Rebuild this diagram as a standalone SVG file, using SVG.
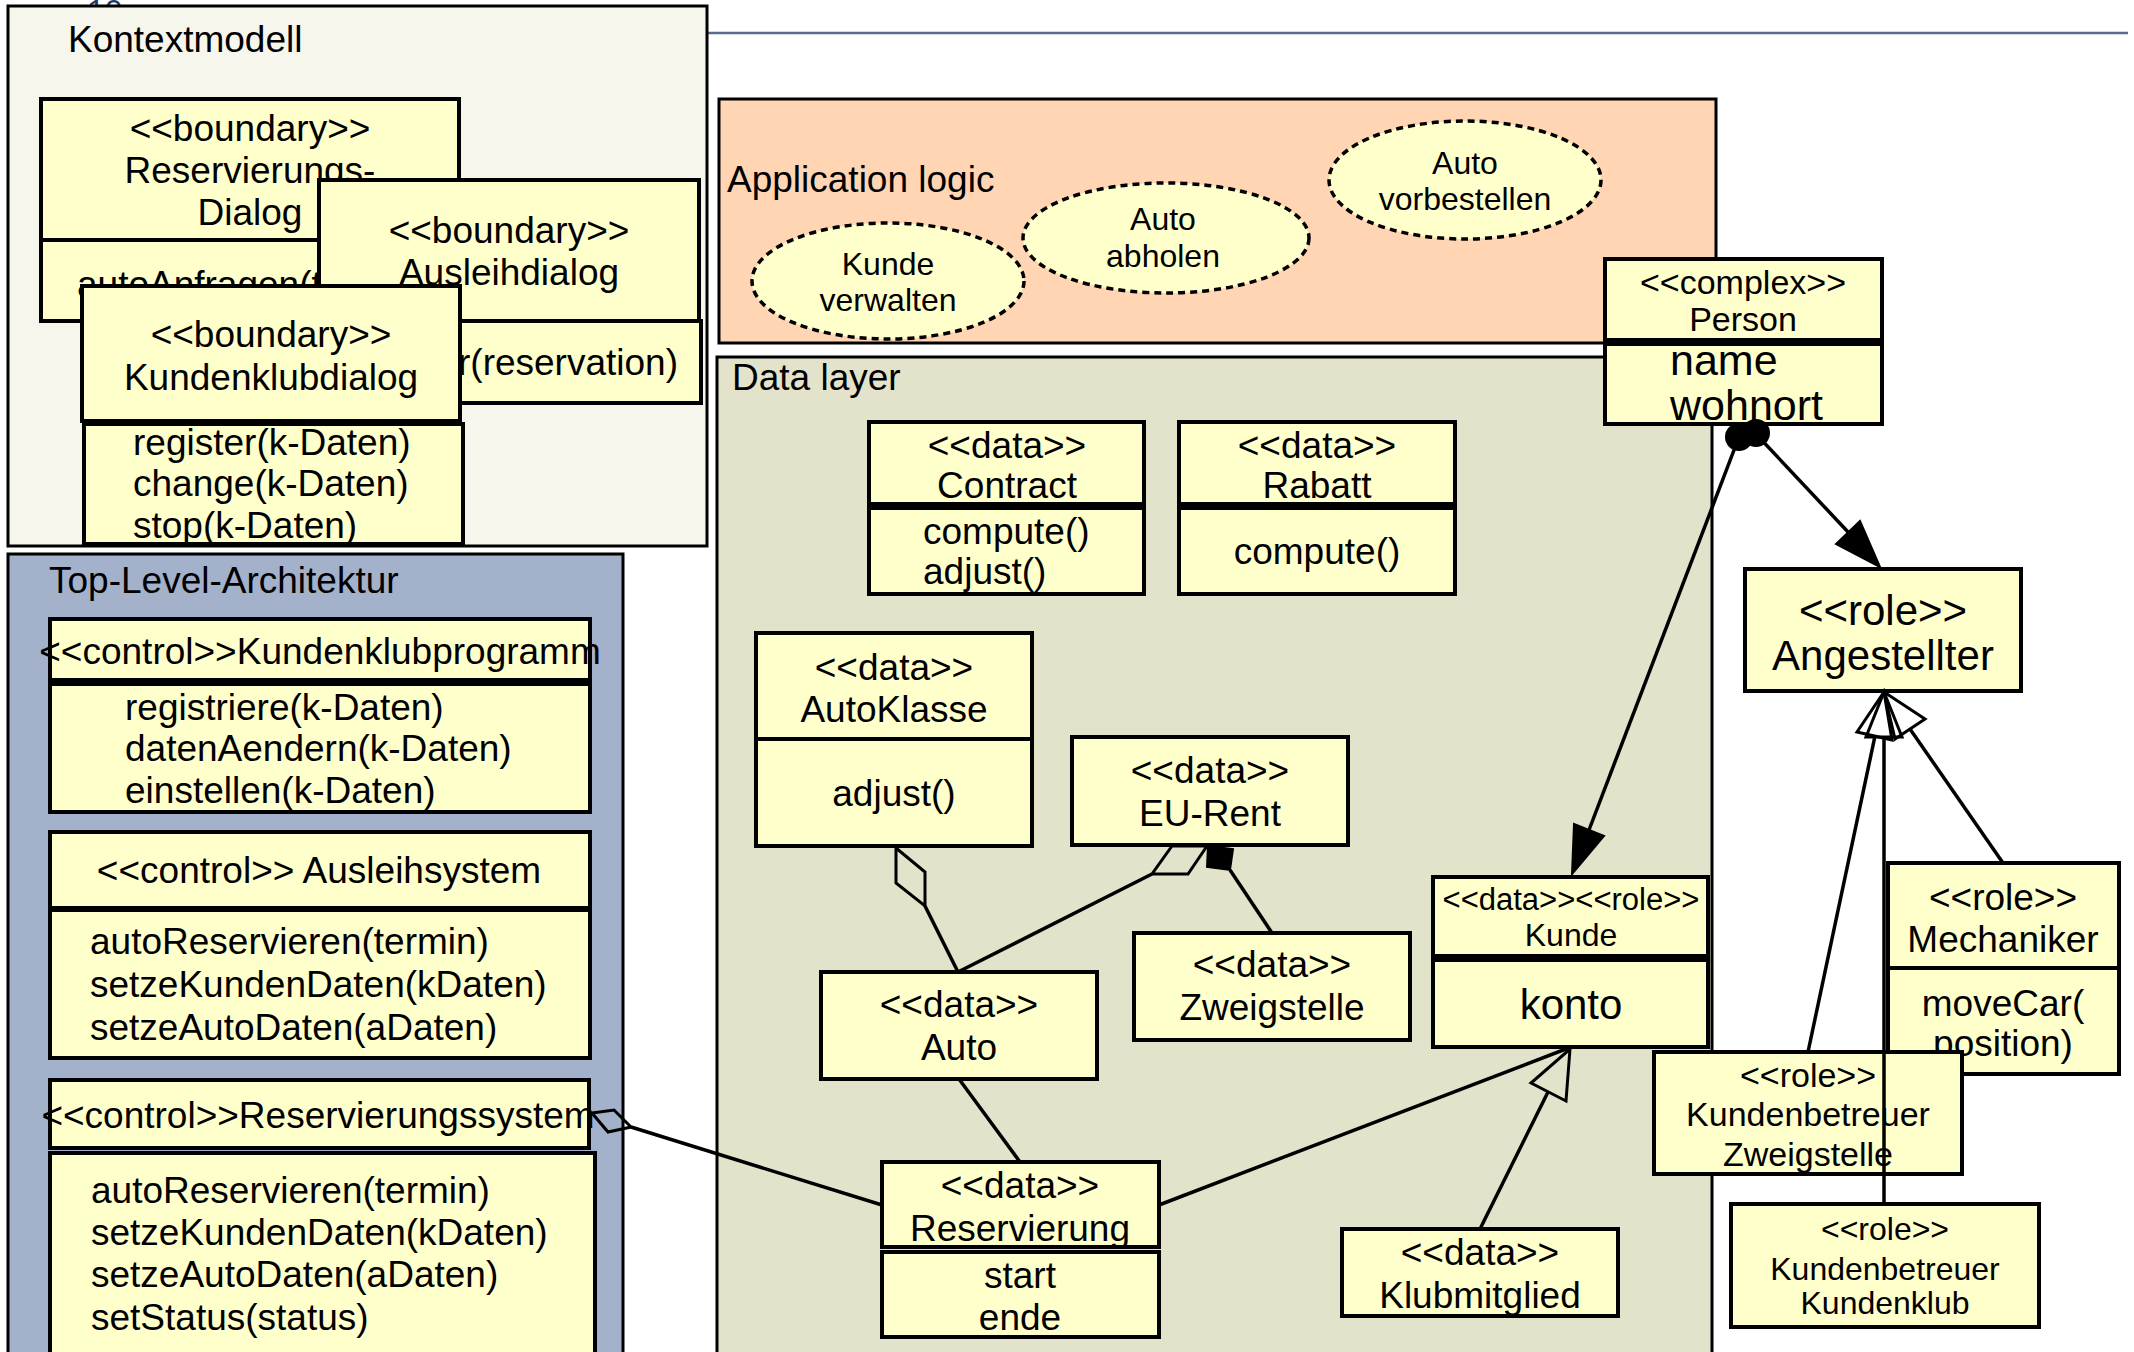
<svg xmlns="http://www.w3.org/2000/svg" width="2134" height="1352" viewBox="0 0 2134 1352">
<defs>
<style>
text{font-family:"Liberation Sans",Arial,sans-serif;fill:#000}
.f37{font-size:37px}.f32{font-size:32px}.f34{font-size:34px}.f31{font-size:31px}.f42{font-size:42px}.f43{font-size:43px}
.c{text-anchor:middle}.e{text-anchor:end}
.box{fill:#FFFFCC;stroke:#000;stroke-width:4}
.panel{stroke:#000;stroke-width:3}
.uc{fill:#FFFFCC;stroke:#000;stroke-width:3.5;stroke-dasharray:7 5}
.ln{fill:none;stroke:#000;stroke-width:3.5}
.hollow{fill:none;stroke:#000;stroke-width:3}
.solid{fill:#000;stroke:#000;stroke-width:2}
</style>
</defs>
<rect width="2134" height="1352" fill="#FFFFFF"/>
<text x="87" y="22" style="font-size:32px;fill:#1F3A6A">10</text>
<line x1="708" y1="33" x2="2128" y2="33" stroke="#5A6B8C" stroke-width="2.5"/>

<g id="panel-kontextmodell">
<rect class="panel" x="8" y="6" width="699" height="540" fill="#F6F6EC" stroke="#222"/>
<text class="f37" x="68" y="52">Kontextmodell</text>
</g>
<g id="panel-toplevel">
<rect class="panel" x="8" y="554" width="615" height="810" fill="#A3B1CA"/>
<text class="f37" x="49" y="593">Top-Level-Architektur</text>
</g>
<g id="panel-applogic">
<rect class="panel" x="719" y="99" width="997" height="244" fill="#FFD5B4"/>
<text class="f37" x="727" y="192">Application logic</text>
</g>
<g id="panel-datalayer">
<rect class="panel" x="717" y="357" width="995" height="1007" fill="#E3E3CB"/>
<text class="f37" x="732" y="390">Data layer</text>
</g>

<g id="reservierungsdialog">
<rect class="box" x="41" y="99" width="418" height="141"/>
<rect class="box" x="41" y="240" width="418" height="81"/>
<text class="f37 c" x="250" y="141">&lt;&lt;boundary&gt;&gt;</text>
<text class="f37 c" x="250" y="183">Reservierungs-</text>
<text class="f37 c" x="250" y="225">Dialog</text>
<text class="f37" x="77" y="297">autoAnfragen(t</text>
</g>
<g id="ausleihdialog">
<rect class="box" x="319" y="180" width="380" height="141"/>
<rect class="box" x="319" y="321" width="382" height="82"/>
<text class="f37 c" x="509" y="243">&lt;&lt;boundary&gt;&gt;</text>
<text class="f37 c" x="509" y="285">Ausleihdialog</text>
<text class="f37 e" x="678" y="375">r(reservation)</text>
</g>
<g id="kundenklubdialog">
<rect class="box" x="82" y="286" width="378" height="135"/>
<rect class="box" x="84" y="424" width="379" height="120"/>
<text class="f37 c" x="271" y="347">&lt;&lt;boundary&gt;&gt;</text>
<text class="f37 c" x="271" y="390">Kundenklubdialog</text>
<text class="f37" x="133" y="455">register(k-Daten)</text>
<text class="f37" x="133" y="496">change(k-Daten)</text>
<text class="f37" x="133" y="538">stop(k-Daten)</text>
</g>

<g id="kundenklubprogramm">
<rect class="box" x="50" y="619" width="540" height="61"/>
<rect class="box" x="50" y="684" width="540" height="128"/>
<text class="f37 c" x="320" y="664">&lt;&lt;control&gt;&gt;Kundenklubprogramm</text>
<text class="f37" x="125" y="720">registriere(k-Daten)</text>
<text class="f37" x="125" y="761">datenAendern(k-Daten)</text>
<text class="f37" x="125" y="803">einstellen(k-Daten)</text>
</g>
<g id="ausleihsystem">
<rect class="box" x="50" y="832" width="540" height="76"/>
<rect class="box" x="50" y="910" width="540" height="148"/>
<text class="f37 c" x="319" y="883">&lt;&lt;control&gt;&gt; Ausleihsystem</text>
<text class="f37" x="90" y="954">autoReservieren(termin)</text>
<text class="f37" x="90" y="997">setzeKundenDaten(kDaten)</text>
<text class="f37" x="90" y="1040">setzeAutoDaten(aDaten)</text>
</g>
<g id="reservierungssystem">
<rect class="box" x="50" y="1080" width="539" height="68"/>
<rect class="box" x="50" y="1153" width="545" height="210"/>
<text class="f37 c" x="318" y="1128">&lt;&lt;control&gt;&gt;Reservierungssystem</text>
<text class="f37" x="91" y="1203">autoReservieren(termin)</text>
<text class="f37" x="91" y="1245">setzeKundenDaten(kDaten)</text>
<text class="f37" x="91" y="1287">setzeAutoDaten(aDaten)</text>
<text class="f37" x="91" y="1330">setStatus(status)</text>
</g>

<g id="uc-kunde-verwalten">
<ellipse class="uc" cx="888" cy="281" rx="136" ry="58"/>
<text class="f32 c" x="888" y="275">Kunde</text>
<text class="f32 c" x="888" y="311">verwalten</text>
</g>
<g id="uc-auto-abholen">
<ellipse class="uc" cx="1166" cy="238" rx="143" ry="55"/>
<text class="f32 c" x="1163" y="230">Auto</text>
<text class="f32 c" x="1163" y="267">abholen</text>
</g>
<g id="uc-auto-vorbestellen">
<ellipse class="uc" cx="1465" cy="180" rx="136" ry="59"/>
<text class="f32 c" x="1465" y="174">Auto</text>
<text class="f32 c" x="1465" y="210">vorbestellen</text>
</g>

<g id="contract">
<rect class="box" x="869" y="422" width="275" height="82"/>
<rect class="box" x="869" y="508" width="275" height="86"/>
<text class="f37 c" x="1007" y="458">&lt;&lt;data&gt;&gt;</text>
<text class="f37 c" x="1007" y="498">Contract</text>
<text class="f37" x="923" y="544">compute()</text>
<text class="f37" x="923" y="584">adjust()</text>
</g>
<g id="rabatt">
<rect class="box" x="1179" y="422" width="276" height="82"/>
<rect class="box" x="1179" y="508" width="276" height="86"/>
<text class="f37 c" x="1317" y="458">&lt;&lt;data&gt;&gt;</text>
<text class="f37 c" x="1317" y="498">Rabatt</text>
<text class="f37 c" x="1317" y="564">compute()</text>
</g>
<g id="autoklasse">
<rect class="box" x="756" y="633" width="276" height="106"/>
<rect class="box" x="756" y="739" width="276" height="107"/>
<text class="f37 c" x="894" y="680">&lt;&lt;data&gt;&gt;</text>
<text class="f37 c" x="894" y="722">AutoKlasse</text>
<text class="f37 c" x="894" y="806">adjust()</text>
</g>
<g id="eurent">
<rect class="box" x="1072" y="737" width="276" height="108"/>
<text class="f37 c" x="1210" y="783">&lt;&lt;data&gt;&gt;</text>
<text class="f37 c" x="1210" y="826">EU-Rent</text>
</g>
<g id="zweigstelle">
<rect class="box" x="1134" y="933" width="276" height="107"/>
<text class="f37 c" x="1272" y="977">&lt;&lt;data&gt;&gt;</text>
<text class="f37 c" x="1272" y="1020">Zweigstelle</text>
</g>
<g id="auto">
<rect class="box" x="821" y="972" width="276" height="107"/>
<text class="f37 c" x="959" y="1017">&lt;&lt;data&gt;&gt;</text>
<text class="f37 c" x="959" y="1060">Auto</text>
</g>
<g id="kunde">
<rect class="box" x="1433" y="877" width="275" height="79"/>
<rect class="box" x="1433" y="960" width="275" height="87"/>
<text class="f31 c" x="1571" y="910">&lt;&lt;data&gt;&gt;&lt;&lt;role&gt;&gt;</text>
<text class="f32 c" x="1571" y="946">Kunde</text>
<text class="f42 c" x="1571" y="1019">konto</text>
</g>
<g id="reservierung">
<rect class="box" x="882" y="1162" width="277" height="85"/>
<rect class="box" x="882" y="1252" width="277" height="85"/>
<text class="f37 c" x="1020" y="1198">&lt;&lt;data&gt;&gt;</text>
<text class="f37 c" x="1020" y="1241">Reservierung</text>
<text class="f37 c" x="1020" y="1288">start</text>
<text class="f37 c" x="1020" y="1330">ende</text>
</g>
<g id="klubmitglied">
<rect class="box" x="1342" y="1229" width="276" height="87"/>
<text class="f37 c" x="1480" y="1265">&lt;&lt;data&gt;&gt;</text>
<text class="f37 c" x="1480" y="1308">Klubmitglied</text>
</g>

<g id="person">
<rect class="box" x="1605" y="259" width="277" height="81"/>
<rect class="box" x="1605" y="344" width="277" height="80"/>
<text class="f34 c" x="1743" y="294">&lt;&lt;complex&gt;&gt;</text>
<text class="f34 c" x="1743" y="331">Person</text>
<text class="f43" x="1670" y="375">name</text>
<text class="f43" x="1670" y="420">wohnort</text>
</g>
<g id="angestellter">
<rect class="box" x="1745" y="569" width="276" height="122"/>
<text class="f42 c" x="1883" y="625">&lt;&lt;role&gt;&gt;</text>
<text class="f42 c" x="1883" y="670">Angestellter</text>
</g>
<g id="mechaniker">
<rect class="box" x="1888" y="863" width="231" height="105"/>
<rect class="box" x="1888" y="968" width="231" height="106"/>
<text class="f37 c" x="2003" y="910">&lt;&lt;role&gt;&gt;</text>
<text class="f37 c" x="2003" y="952">Mechaniker</text>
<text class="f37 c" x="2003" y="1016">moveCar(</text>
<text class="f37 c" x="2003" y="1056">position)</text>
</g>
<g id="kb-zweigstelle">
<rect class="box" x="1654" y="1052" width="308" height="122"/>
<text class="f34 c" x="1808" y="1087">&lt;&lt;role&gt;&gt;</text>
<text class="f34 c" x="1808" y="1126">Kundenbetreuer</text>
<text class="f34 c" x="1808" y="1166">Zweigstelle</text>
</g>
<g id="kb-kundenklub">
<rect class="box" x="1731" y="1204" width="308" height="123"/>
<text class="f32 c" x="1885" y="1240">&lt;&lt;role&gt;&gt;</text>
<text class="f32 c" x="1885" y="1280">Kundenbetreuer</text>
<text class="f32 c" x="1885" y="1314">Kundenklub</text>
</g>

<g id="connectors">
<polygon class="hollow" points="592,1113 614,1110 631,1127 608,1132"/>
<line class="ln" x1="631" y1="1127" x2="882" y2="1205"/>
<polygon class="hollow" points="896,848 925,872 925,906 896,883"/>
<line class="ln" x1="925" y1="906" x2="958" y2="972"/>
<polygon class="hollow" points="1172,846 1207,846 1188,874 1152,874"/>
<line class="ln" x1="1152" y1="874" x2="958" y2="972"/>
<polygon class="solid" points="1208,846 1233,849 1230,870 1207,867"/>
<line class="ln" x1="1230" y1="870" x2="1272" y2="933"/>
<line class="ln" x1="959" y1="1079" x2="1020" y2="1162"/>
<line class="ln" x1="1159" y1="1205" x2="1571" y2="1047"/>
<line class="ln" x1="1480" y1="1229" x2="1548" y2="1092"/>
<polygon class="hollow" points="1570,1049 1566,1101 1531,1083"/>
<circle cx="1739" cy="437" r="14" fill="#000"/>
<circle cx="1756" cy="433" r="14" fill="#000"/>
<line class="ln" x1="1739" y1="437" x2="1589" y2="830"/>
<polygon class="solid" points="1572,874 1604,836 1574,824"/>
<line class="ln" x1="1756" y1="434" x2="1848" y2="532"/>
<polygon class="solid" points="1880,567 1860,521 1836,544"/>
<line class="ln" x1="1808" y1="1052" x2="1875" y2="736"/>
<polygon class="hollow" points="1884,692 1892,740 1857,732"/>
<line class="ln" x1="1884" y1="1204" x2="1884" y2="737"/>
<polygon class="hollow" points="1884,692 1902,737 1866,737"/>
<line class="ln" x1="2003" y1="863" x2="1910" y2="729"/>
<polygon class="hollow" points="1884,692 1925,719 1895,739"/>
</g>
</svg>
